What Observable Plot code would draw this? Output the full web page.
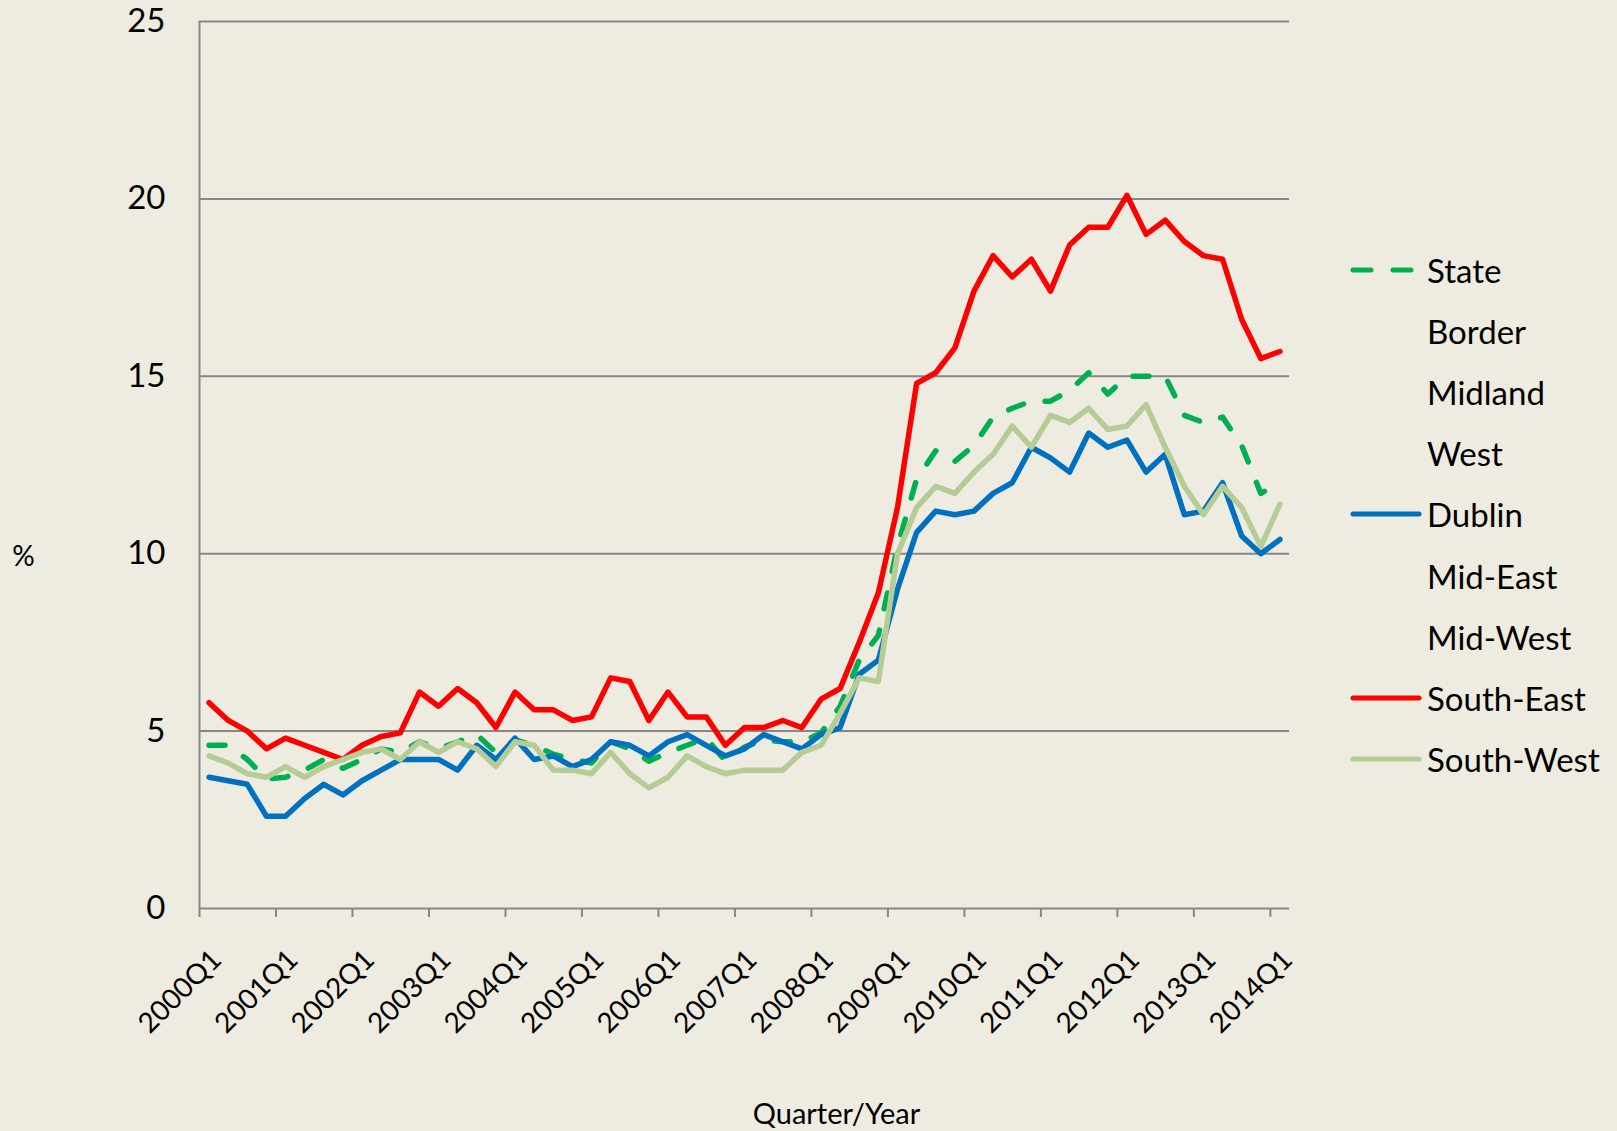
<!DOCTYPE html>
<html>
<head>
<meta charset="utf-8">
<script src="https://cdn.jsdelivr.net/npm/d3@7"></script>
<script src="https://cdn.jsdelivr.net/npm/@observablehq/plot@0.6"></script>
<style>
  html, body { margin: 0; padding: 0; background: #EEECE1; }
  #wrap { position: relative; width: 1617px; height: 1131px; background: #EEECE1; font-family: Lato, sans-serif; }
  #legend { position: absolute; left: 0; top: 0; }
  .lrow { position: absolute; left: 1350px; height: 40px; display: flex; align-items: center; font-size: 33px; color: #000; white-space: nowrap; }
  .lrow svg { width: 72px; height: 10px; margin-right: 5px; flex: none; }
</style>
</head>
<body>
<div id="wrap"><div id="legend"></div></div>
<script>
// Categories (quarters 2000Q1 .. 2014Q1)
const quarters = [
  "2000Q1","2000Q2","2000Q3","2000Q4","2001Q1","2001Q2","2001Q3","2001Q4",
  "2002Q1","2002Q2","2002Q3","2002Q4","2003Q1","2003Q2","2003Q3","2003Q4",
  "2004Q1","2004Q2","2004Q3","2004Q4","2005Q1","2005Q2","2005Q3","2005Q4",
  "2006Q1","2006Q2","2006Q3","2006Q4","2007Q1","2007Q2","2007Q3","2007Q4",
  "2008Q1","2008Q2","2008Q3","2008Q4","2009Q1","2009Q2","2009Q3","2009Q4",
  "2010Q1","2010Q2","2010Q3","2010Q4","2011Q1","2011Q2","2011Q3","2011Q4",
  "2012Q1","2012Q2","2012Q3","2012Q4","2013Q1","2013Q2","2013Q3","2013Q4",
  "2014Q1"
];
// Tick labels shown on the axis
const tickLabels = ["2000Q1","2001Q1","2002Q1","2003Q1","2004Q1","2005Q1","2006Q1","2007Q1","2008Q1","2009Q1","2010Q1","2011Q1","2012Q1","2013Q1","2014Q1"];
const yTicks = [0, 5, 10, 15, 20, 25];

// Series values (%)
const stateRate = [
  4.6,4.6,4.2,3.65,3.7,3.9,4.2,3.95,
  4.2,4.5,4.4,4.7,4.5,4.7,4.9,4.4,
  4.75,4.6,4.35,4.2,4.1,4.7,4.5,4.15,
  4.4,4.6,4.8,4.15,4.55,4.75,4.7,4.7,
  4.95,5.7,7.0,7.7,10.2,12.1,12.9,12.6,
  13.05,13.85,14.1,14.3,14.3,14.6,15.1,14.5,
  15.0,15.0,15.0,13.9,13.7,13.85,13.05,11.7,
  12.0
];
const dublinRate = [
  3.7,3.6,3.5,2.6,2.6,3.1,3.5,3.2,
  3.6,3.9,4.2,4.2,4.2,3.9,4.6,4.2,
  4.8,4.2,4.3,4.0,4.2,4.7,4.6,4.3,
  4.7,4.9,4.6,4.3,4.5,4.9,4.7,4.5,
  4.9,5.1,6.6,7.0,9.0,10.6,11.2,11.1,
  11.2,11.7,12.0,13.0,12.7,12.3,13.4,13.0,
  13.2,12.3,12.8,11.1,11.2,12.0,10.5,10.0,
  10.4
];
const southEastRate = [
  5.8,5.3,5.0,4.5,4.8,4.6,4.4,4.2,
  4.6,4.85,4.95,6.1,5.7,6.2,5.8,5.1,
  6.1,5.6,5.6,5.3,5.4,6.5,6.4,5.3,
  6.1,5.4,5.4,4.6,5.1,5.1,5.3,5.1,
  5.9,6.2,7.5,8.9,11.3,14.8,15.1,15.8,
  17.4,18.4,17.8,18.3,17.4,18.7,19.2,19.2,
  20.1,19.0,19.4,18.8,18.4,18.3,16.6,15.5,
  15.7
];
const southWestRate = [
  4.3,4.1,3.8,3.7,4.0,3.7,4.0,4.2,
  4.4,4.5,4.2,4.7,4.4,4.7,4.5,4.0,
  4.7,4.6,3.9,3.9,3.8,4.4,3.8,3.4,
  3.7,4.3,4.0,3.8,3.9,3.9,3.9,4.4,
  4.6,5.5,6.5,6.4,10.0,11.3,11.9,11.7,
  12.3,12.8,13.6,13.0,13.9,13.7,14.1,13.5,
  13.6,14.2,13.0,11.9,11.1,11.9,11.3,10.2,
  11.4
];

const legendNames = ["State","Border","Midland","West","Dublin","Mid-East","Mid-West","South-East","South-West"];

const styles = {
  "State":      {stroke: "#00B050", dash: "16,22"},
  "Dublin":     {stroke: "#0070C0", dash: null},
  "South-East": {stroke: "#FF0000", dash: null},
  "South-West": {stroke: "#B5CC96", dash: null}
};

const seriesList = [
  ["State", stateRate],
  ["Dublin", dublinRate],
  ["South-East", southEastRate],
  ["South-West", southWestRate]
];

const gridColor = "#878787";
const tickIdx = tickLabels.map(t => quarters.indexOf(t));
const boundaries = tickIdx.map(i => i - 0.5);

const lineMarks = seriesList.map(([name, vals]) => {
  const rows = vals.map((v, i) => ({i, q: quarters[i], v}));
  const st = styles[name];
  const opts = {x: "i", y: "v", stroke: st.stroke, strokeWidth: 5.5, strokeLinejoin: "round", strokeLinecap: "round"};
  if (st.dash) opts.strokeDasharray = st.dash;
  return Plot.line(rows, opts);
});

const chart = Plot.plot({
  width: 1617,
  height: 1131,
  marginLeft: 199,
  marginRight: 328,
  marginTop: 21,
  marginBottom: 223,
  style: {background: "#EEECE1", fontFamily: "Lato, sans-serif", color: "#000"},
  x: {type: "linear", domain: [-0.5, quarters.length - 0.5]},
  y: {domain: [0, 25]},
  marks: [
    Plot.gridY(yTicks.filter(d => d > 0), {stroke: gridColor, strokeOpacity: 1, strokeWidth: 2}),
    Plot.ruleX([-0.5], {stroke: gridColor, strokeWidth: 2}),
    Plot.ruleY([0], {stroke: gridColor, strokeWidth: 2}),
    Plot.axisY(yTicks, {tickSize: 0, tickPadding: 34, fontSize: 33, label: null}),
    Plot.axisX(boundaries, {tickSize: 9, tickFormat: () => "", stroke: gridColor, strokeWidth: 2, label: null}),
    Plot.text(tickIdx, {x: d => d, y: () => 0, text: (d, i) => tickLabels[i], rotate: -45, textAnchor: "end", lineAnchor: "bottom", dx: 14, dy: 53, fontSize: 28}),
    Plot.text(["Quarter/Year"], {frameAnchor: "bottom", dx: 92, dy: 215, fontSize: 29}),
    Plot.text(["%"], {frameAnchor: "left", dx: -176, dy: 92, fontSize: 28, textAnchor: "middle"}),
    ...lineMarks
  ]
});

const wrap = document.getElementById("wrap");
wrap.insertBefore(chart, wrap.firstChild);

// Legend
const legend = document.getElementById("legend");
legendNames.forEach((name, k) => {
  const row = document.createElement("div");
  row.className = "lrow";
  row.style.top = (270 + 61.1 * k - 20) + "px";
  const st = styles[name];
  const svgNS = "http://www.w3.org/2000/svg";
  const svg = document.createElementNS(svgNS, "svg");
  svg.setAttribute("viewBox", "0 0 72 10");
  if (st) {
    const ln = document.createElementNS(svgNS, "line");
    ln.setAttribute("x1", 3); ln.setAttribute("x2", 69);
    ln.setAttribute("y1", 5); ln.setAttribute("y2", 5);
    ln.setAttribute("stroke", st.stroke);
    ln.setAttribute("stroke-width", 5);
    ln.setAttribute("stroke-linecap", "round");
    if (st.dash) ln.setAttribute("stroke-dasharray", "18,22");
    svg.appendChild(ln);
  }
  row.appendChild(svg);
  const span = document.createElement("span");
  span.textContent = name;
  row.appendChild(span);
  legend.appendChild(row);
});
</script>
</body>
</html>
